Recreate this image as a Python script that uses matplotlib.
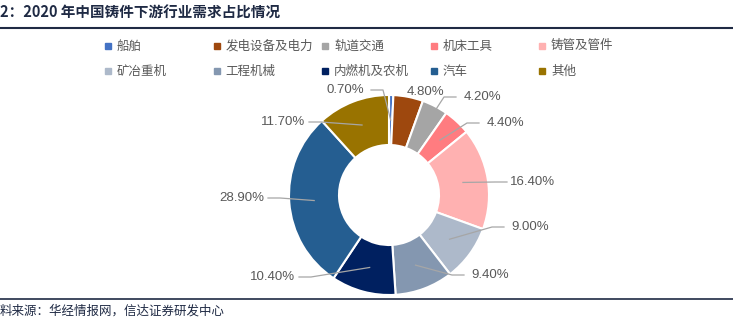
import matplotlib
matplotlib.use("Agg")
from matplotlib import pyplot as plt
import numpy as np

plt.rcParams['font.family'] = ['Noto Sans CJK SC', 'DejaVu Sans']

categories = ["船舶", "发电设备及电力", "轨道交通", "机床工具", "铸管及管件",
              "矿冶重机", "工程机械", "内燃机及农机", "汽车", "其他"]
shares = [0.7, 4.8, 4.2, 4.4, 16.4, 9.0, 9.4, 10.4, 28.9, 11.7]
colors = ["#4472C4", "#9E480E", "#A5A5A5", "#FF7C80", "#FFB1B1",
          "#ADB9CA", "#8497B0", "#002060", "#255E91", "#997300"]
# where each percent label sits (x, y in units of the outer radius)
label_pos = [(-0.44, 1.05), (0.36, 1.03), (0.93, 0.98), (1.16, 0.72), (1.44, 0.13),
             (1.41, -0.32), (1.01, -0.80), (-1.16, -0.82), (-1.47, -0.03), (-1.06, 0.73)]

fig = plt.figure(figsize=(7.33, 3.23), dpi=100)
ax = fig.add_axes([0, 0, 1, 1])

wedges, _ = ax.pie(shares, colors=colors, startangle=90, counterclock=False,
                   radius=1.0, wedgeprops=dict(width=0.5, edgecolor='white', linewidth=1.5))
ax.set_xlim(-3.89, 3.44)
ax.set_ylim(-1.28, 1.95)
ax.set_aspect('equal')
ax.axis('off')

total = sum(shares)
start = 90.0
for i, (w, v) in enumerate(zip(wedges, shares)):
    mid = np.deg2rad(start - v / total * 360 / 2)
    start -= v / total * 360
    px, py = 0.75 * np.cos(mid), 0.75 * np.sin(mid)
    tx, ty = label_pos[i]
    txt = "{:.2f}%".format(v)
    if i == 1:
        ax.text(tx, ty, txt, ha='center', va='center', fontsize=9.5,
                color='#595959', family=['Liberation Sans'])
        continue
    side = 1 if tx > 0 else -1
    ex = tx - side * 0.26
    ax.plot([px, ex - side * 0.12, ex], [py, ty, ty], color='#A6A6A6', lw=0.9)
    ax.text(tx, ty, txt, ha='center', va='center', fontsize=9.5,
            color='#595959', family=['Liberation Sans'])

# legend, Excel style fixed grid
for i, (c, name) in enumerate(zip(colors, categories)):
    col, row = i % 5, i // 5
    x = 108 + col * 108.5
    y = 46 + row * 25
    fig.patches.append(plt.Rectangle(((x - 3) / 733, 1 - (y + 3) / 323), 6 / 733, 6 / 323,
                                     transform=fig.transFigure, color=c, figure=fig))
    fig.text((x + 9) / 733, 1 - y / 323, name, ha='left', va='center',
             fontsize=9, color='#595959')

# title and rules
fig.text(0.0, 1 - 13 / 323, "2：2020 年中国铸件下游行业需求占比情况", ha='left', va='center',
         fontsize=10.5, fontweight='bold', color='#1F2A44')
fig.add_artist(plt.Line2D([0, 1], [1 - 28 / 323, 1 - 28 / 323], transform=fig.transFigure,
                          color='#1F2A44', lw=1.5))
fig.add_artist(plt.Line2D([0, 1], [1 - 299 / 323, 1 - 299 / 323], transform=fig.transFigure,
                          color='#1F2A44', lw=1.2, zorder=0))
fig.text(0.0, 1 - 311 / 323, "料来源：华经情报网，信达证券研发中心", ha='left', va='center',
         fontsize=9, style='italic', color='#1F2A44')

fig.savefig("out.png", dpi=100)
